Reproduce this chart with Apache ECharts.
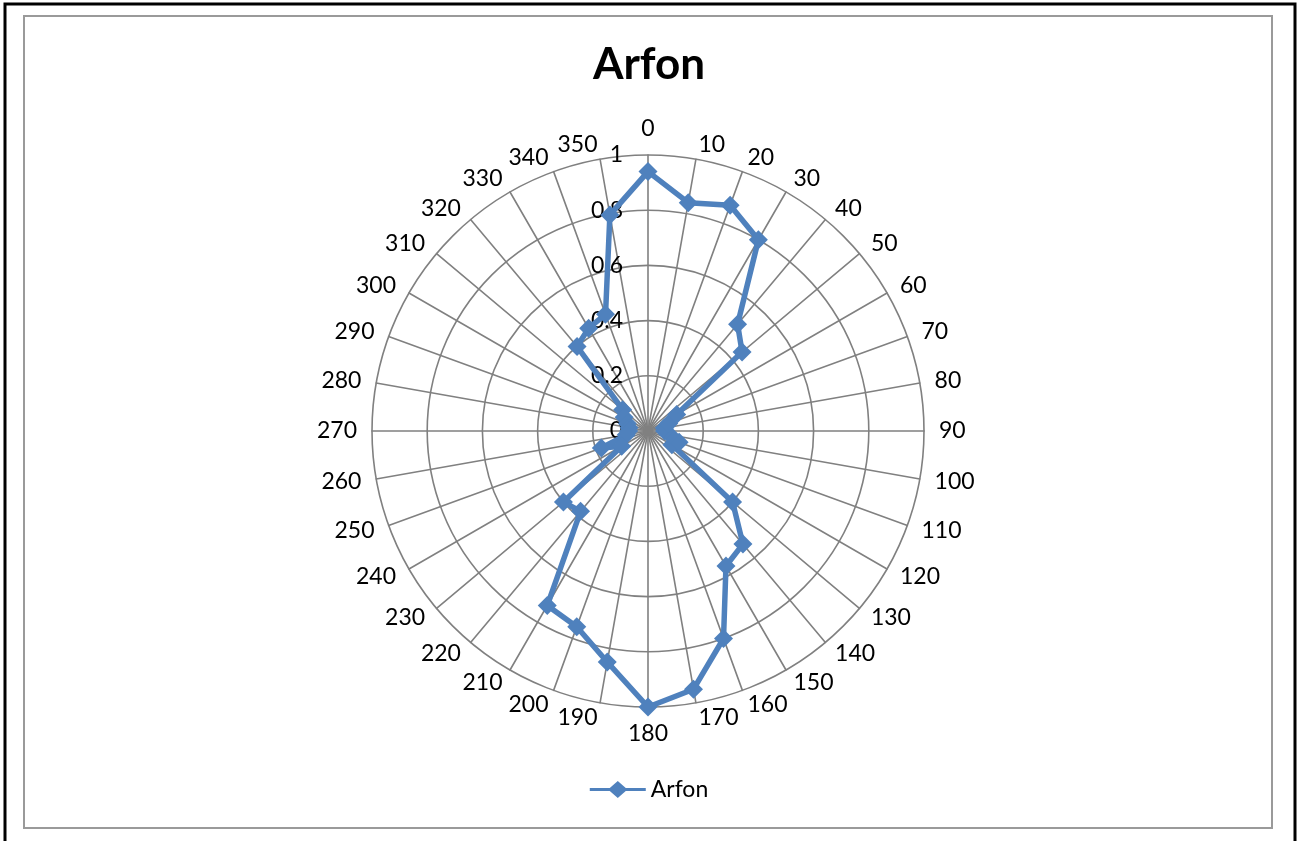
<!DOCTYPE html>
<html>
<head>
<meta charset="utf-8">
<script src="https://cdn.jsdelivr.net/npm/echarts@6/dist/echarts.min.js"></script>
<style>
  html, body { margin: 0; padding: 0; background: #fff; }
  #main { width: 1298px; height: 841px; }
</style>
</head>
<body>
<div id="main"></div>
<script>
// directions, clockwise from the top (as in the original chart)
var directions = ['0', '10', '20', '30', '40', '50', '60', '70', '80', '90', '100', '110',
  '120', '130', '140', '150', '160', '170', '180', '190', '200', '210', '220', '230',
  '240', '250', '260', '270', '280', '290', '300', '310', '320', '330', '340', '350'];

// Arfon values
var arfon = [0.94, 0.84, 0.87, 0.80, 0.505, 0.445, 0.12, 0.08, 0.06, 0.06, 0.08, 0.12,
  0.10, 0.40, 0.535, 0.565, 0.80, 0.95, 1.00, 0.85, 0.755, 0.73, 0.38, 0.40,
  0.11, 0.18, 0.08, 0.07, 0.07, 0.08, 0.10, 0.12, 0.40, 0.43, 0.45, 0.795];

var valueMax = 1;

var myChart = echarts.init(document.getElementById('main'));

// echarts radar runs counter-clockwise, so walk the list backwards after the first item
var order = [0];
for (var i = directions.length - 1; i > 0; i--) order.push(i);

var indicator = order.map(function (k, n) {
  var item = { name: directions[k], min: 0, max: valueMax };
  if (n === 0) {
    item.axisLabel = {
      show: true,
      color: '#000',
      fontSize: 23,
      fontFamily: 'Lato',
      margin: 25,
      align: 'right',
      verticalAlign: 'middle'
    };
  }
  return item;
});
var values = order.map(function (k) { return arfon[k]; });

// line with a diamond in the middle, like the excel legend key
var legendIcon = 'path://M0,7 L20,7 L28,0 L36,7 L56,7 L56,10 L36,10 L28,17 L20,10 L0,10 Z';

var option = {
  backgroundColor: '#fff',
  animation: false,
  title: {
    text: 'Arfon',
    left: 'center',
    top: 38,
    textStyle: { fontSize: 44, fontWeight: 'bold', color: '#000', fontFamily: 'Lato' }
  },
  legend: {
    data: [{ name: 'Arfon', icon: legendIcon }],
    left: 'center',
    top: 773,
    itemWidth: 56,
    itemHeight: 17,
    itemGap: 4,
    textStyle: { fontSize: 23, color: '#000', fontFamily: 'Lato' }
  },
  radar: {
    center: [648, 431],
    radius: 276,
    shape: 'circle',
    startAngle: 90,
    splitNumber: 5,
    nameGap: 15,
    axisName: { color: '#000', fontSize: 23, fontFamily: 'Lato' },
    splitLine: { lineStyle: { color: '#808080', width: 1.6 } },
    splitArea: { show: false },
    axisLine: { lineStyle: { color: '#808080', width: 1.6 } },
    axisTick: { show: false },
    axisLabel: { show: false },
    indicator: indicator
  },
  graphic: [
    {
      type: 'rect', silent: true, z: -1,
      shape: { x: 5, y: 4, width: 1290, height: 880 },
      style: { fill: null, stroke: '#000', lineWidth: 3 }
    },
    {
      type: 'rect', silent: true, z: -1,
      shape: { x: 24, y: 16, width: 1248, height: 812 },
      style: { fill: null, stroke: '#9a9a9a', lineWidth: 2 }
    }
  ],
  series: [{
    name: 'Arfon',
    type: 'radar',
    symbol: 'diamond',
    symbolSize: 19,
    itemStyle: { color: '#4F81BD' },
    lineStyle: { color: '#4F81BD', width: 5.5 },
    data: [{ name: 'Arfon', value: values }]
  }]
};

myChart.setOption(option);
</script>
</body>
</html>
